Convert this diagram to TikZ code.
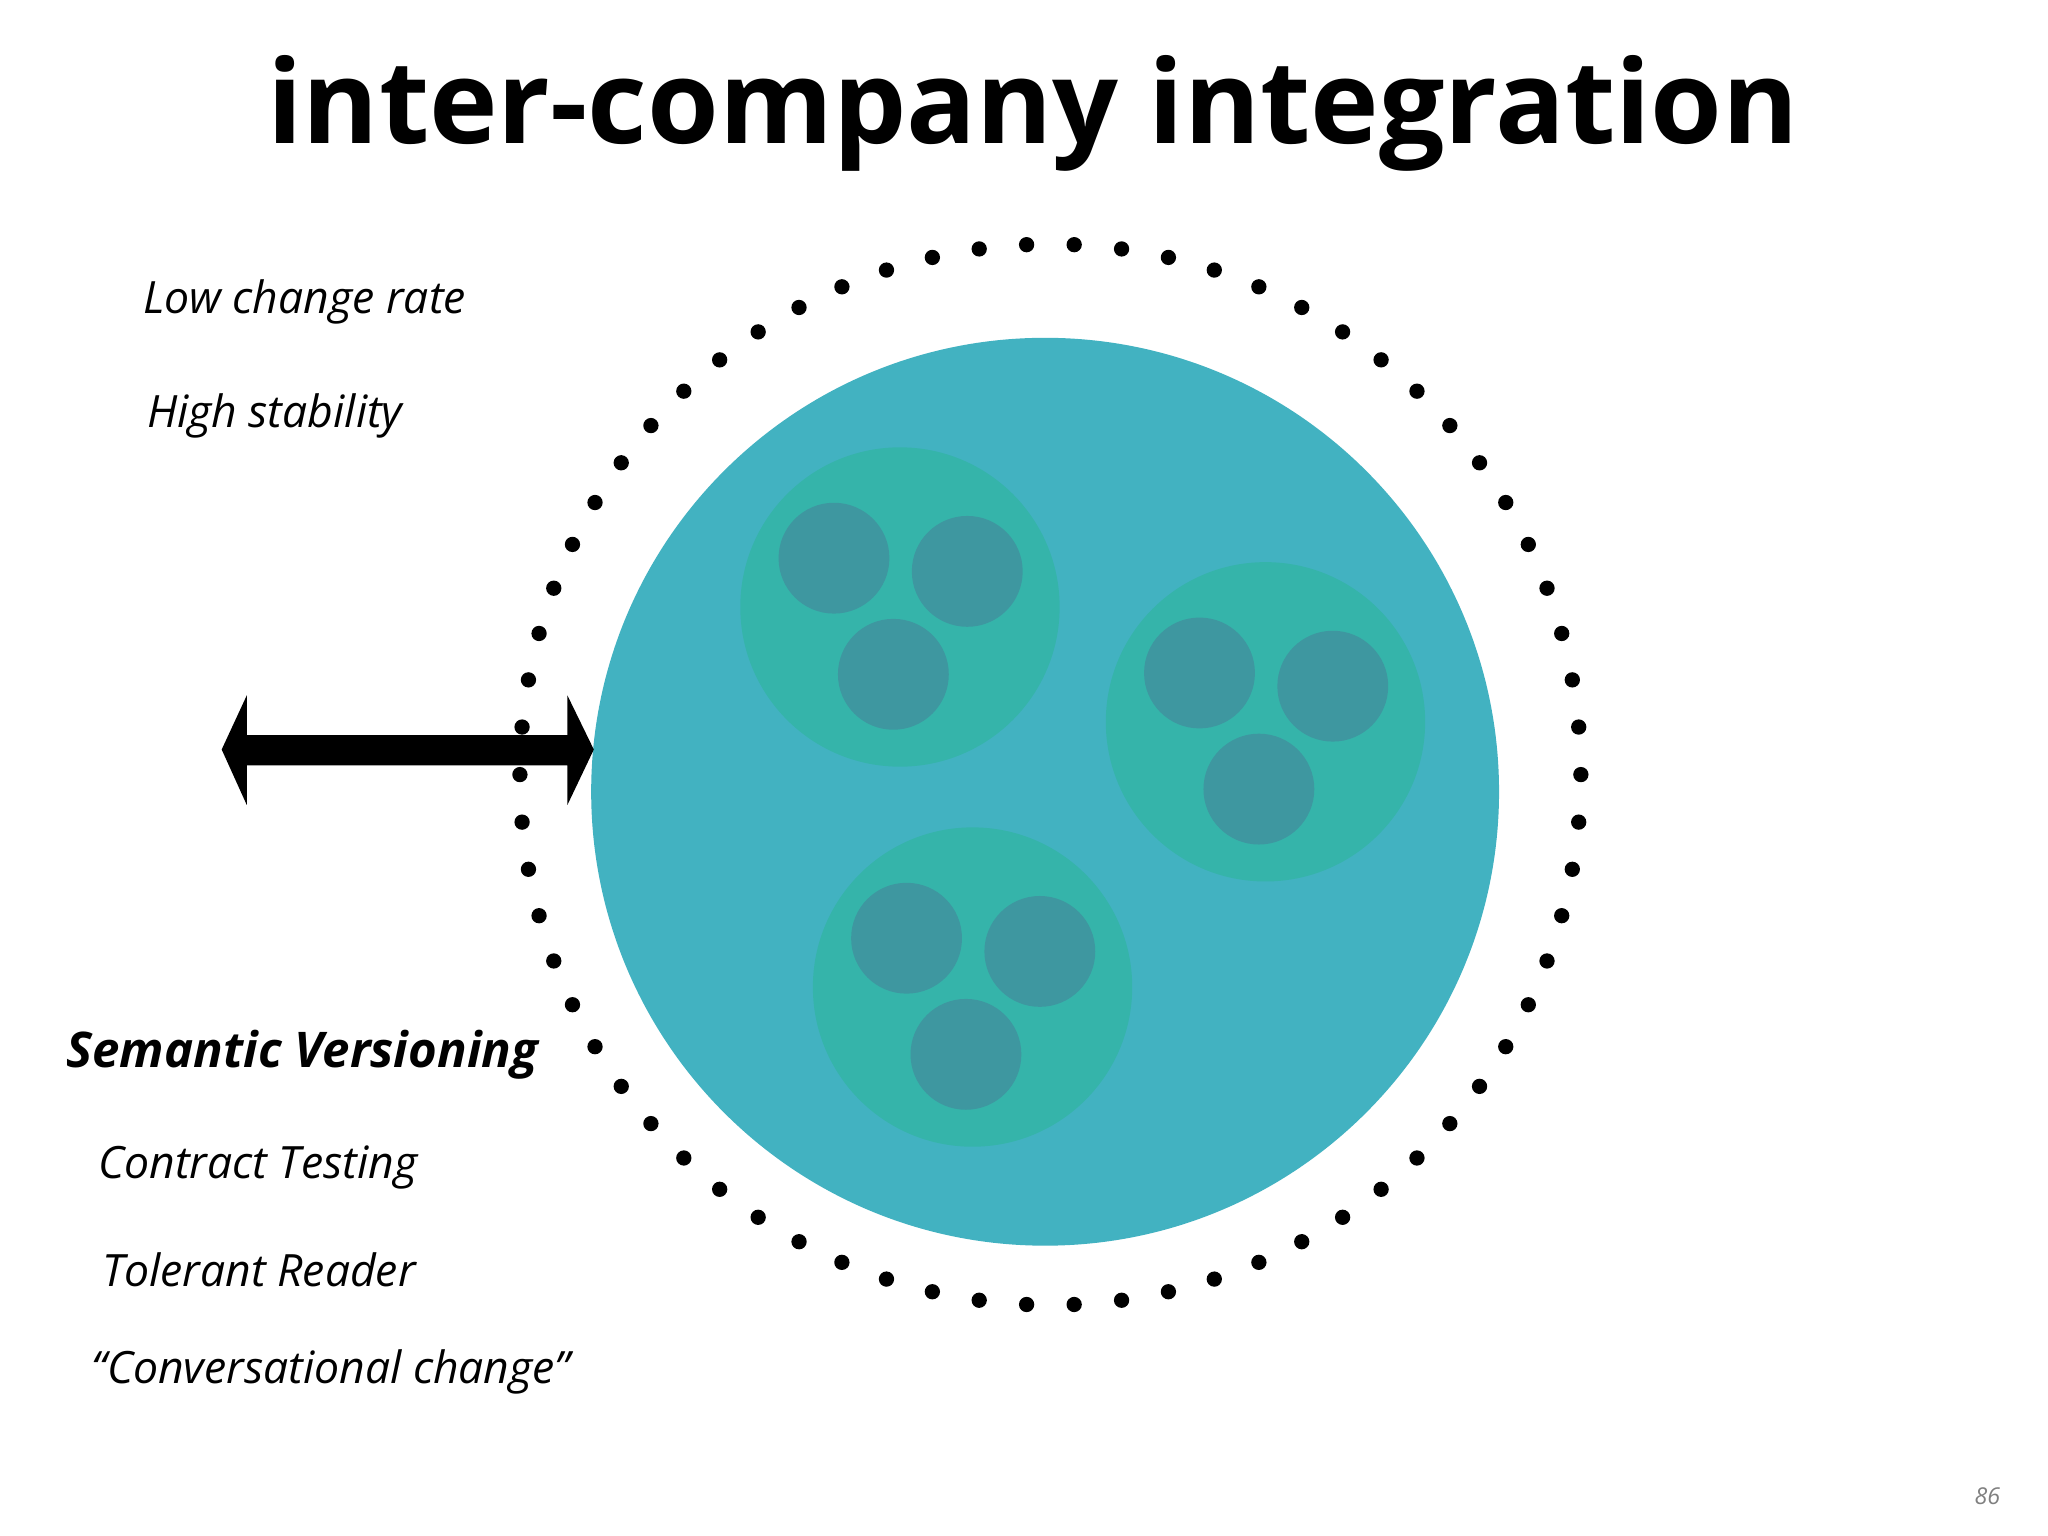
\documentclass[tikz,border=0pt]{standalone}
\usepackage{fontspec}
\setmainfont{Open Sans}
\begin{document}
\begin{tikzpicture}[x=1cm,y=-1cm,
  lbl/.style={anchor=west,font=\fontsize{9.6}{12}\selectfont\itshape},
  big/.style={fill=bigc},
  grp/.style={fill=grpc},
  mem/.style={fill=memc}]
\definecolor{bigc}{HTML}{42B2C1}
\definecolor{grpc}{HTML}{35B4AA}
\definecolor{memc}{HTML}{3E97A0}
\useasboundingbox[fill=white] (0,0) rectangle (15.52,11.64);
\node (title) at (7.83,0.86) {\fontsize{25}{30}\selectfont\bfseries inter-company integration};
\fill[big] (7.92,6.00) circle (3.44);
\foreach \cx/\cy in {6.82/4.60, 9.59/5.47, 7.37/7.48}{
  \fill[grp] (\cx,\cy) circle (1.21);
  \fill[mem] (\cx-0.50,\cy-0.37) circle (0.42);
  \fill[mem] (\cx+0.51,\cy-0.27) circle (0.42);
  \fill[mem] (\cx-0.05,\cy+0.51) circle (0.42);
}
\foreach \i in {0,...,69}{
  \fill (7.96,5.87) ++(\i*5.142857:4.02) circle (0.058);
}
\fill (1.68,5.68) -- (1.87,5.27) -- (1.87,5.57) -- (4.30,5.57) -- (4.30,5.27) -- (4.50,5.68)
  -- (4.30,6.10) -- (4.30,5.80) -- (1.87,5.80) -- (1.87,6.10) -- cycle;
\node[lbl] (a) at (0.96,2.29) {Low change rate};
\node[lbl] (b) at (0.99,3.15) {High stability};
\node[lbl,font=\fontsize{10.6}{12}\selectfont\bfseries\itshape] (c) at (0.38,7.99) {Semantic Versioning};
\node[lbl] (d) at (0.62,8.85) {Contract Testing};
\node[lbl] (e) at (0.65,9.62) {Tolerant Reader};
\node[lbl] (f) at (0.57,10.40) {“Conversational change”};
\node[font=\fontsize{5}{6}\selectfont\itshape,text=gray] (n) at (15.06,11.34) {86};
\end{tikzpicture}
\end{document}
